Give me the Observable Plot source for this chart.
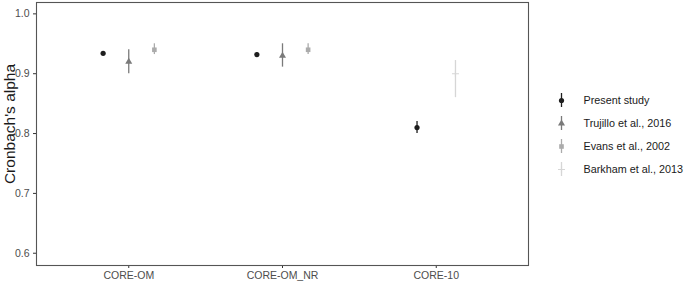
<!DOCTYPE html>
<html>
<head>
<meta charset="utf-8">
<script src="https://cdn.jsdelivr.net/npm/d3@7"></script>
<script src="https://cdn.jsdelivr.net/npm/@observablehq/plot@0.6"></script>
<style>
  html, body { margin: 0; padding: 0; background: #fff; }
  #wrap { position: relative; width: 685px; height: 283px; font-family: "Liberation Sans", Arial, sans-serif; }
  #wrap svg { position: absolute; left: 0; top: 0; }
  #ytitle { position: absolute; left: 10px; top: 124px; transform: translate(-50%, -50%) rotate(-90deg);
            font-size: 15.5px; color: #1a1a1a; white-space: nowrap; line-height: 1; }
</style>
</head>
<body>
<div id="wrap"></div>
<script>
const categories = ["CORE-OM", "CORE-OM_NR", "CORE-10"];
const studies = ["Present study", "Trujillo et al., 2016", "Evans et al., 2002", "Barkham et al., 2013"];
const studyColors = ["#1e1e1e", "#7a7a7a", "#ababab", "#d6d6d6"];
const studySymbols = ["circle", "triangle", "square", "plus"];

const measure = ["CORE-OM", "CORE-OM", "CORE-OM", "CORE-OM_NR", "CORE-OM_NR", "CORE-OM_NR", "CORE-10", "CORE-10"];
const study = ["Present study", "Trujillo et al., 2016", "Evans et al., 2002",
               "Present study", "Trujillo et al., 2016", "Evans et al., 2002",
               "Present study", "Barkham et al., 2013"];
const alpha = [0.934, 0.92, 0.94, 0.932, 0.93, 0.94, 0.81, 0.90];
const lower = [0.931, 0.90, 0.932, 0.929, 0.911, 0.932, 0.80, 0.86];
const upper = [0.937, 0.94, 0.95, 0.935, 0.95, 0.95, 0.82, 0.922];
const yTicks = [0.6, 0.7, 0.8, 0.9, 1.0];

// Build table with ggplot-style dodge (width 0.5)
const rows = measure.map((m, i) => ({measure: m, study: study[i], alpha: alpha[i], lower: lower[i], upper: upper[i]}));
const dodgeWidth = 0.5;
for (const r of rows) {
  const group = rows.filter(d => d.measure === r.measure)
    .sort((a, b) => studies.indexOf(a.study) - studies.indexOf(b.study));
  const n = group.length, k = group.indexOf(r);
  r.xpos = categories.indexOf(r.measure) + (k - (n - 1) / 2) * dodgeWidth / n;
}

const colorScale = {domain: studies, range: studyColors};
const symbolScale = {domain: studies, range: studySymbols};
const fontFam = "Liberation Sans, Arial, sans-serif";
const isPlus = d => d === "Barkham et al., 2013";

const main = Plot.plot({
  width: 685, height: 283,
  marginLeft: 36, marginRight: 157, marginTop: 2, marginBottom: 18,
  style: {fontFamily: fontFam, background: "transparent", overflow: "visible"},
  x: {type: "linear", domain: [-0.6, 2.6]},
  y: {domain: [0.5795, 1.019]},
  color: colorScale,
  symbol: symbolScale,
  marks: [
    Plot.axisX({ticks: [0, 1, 2], tickFormat: i => categories[i], tickSize: 3, tickPadding: 3,
                fontSize: 10.5, color: "#4d4d4d", stroke: "#333", label: null}),
    Plot.axisY({ticks: yTicks, tickFormat: d3.format(".1f"), tickSize: 3, tickPadding: 4,
                fontSize: 10.5, color: "#4d4d4d", stroke: "#333", label: null}),
    Plot.ruleX(rows, {x: "xpos", y1: "lower", y2: "upper", stroke: "study", strokeWidth: 1.3}),
    Plot.dot(rows.filter(d => !isPlus(d.study)),
             {x: "xpos", y: "alpha", fill: "study", symbol: "study", r: 2.6, stroke: "none"}),
    Plot.dot(rows.filter(d => isPlus(d.study)),
             {x: "xpos", y: "alpha", stroke: "study", symbol: "study", r: 2.4, strokeWidth: 1.1, fill: "none"}),
    Plot.frame({stroke: "#555", strokeWidth: 1.1})
  ]
});

const legend = Plot.plot({
  width: 145, height: 283, margin: 0,
  style: {fontFamily: fontFam, background: "transparent", overflow: "visible"},
  x: {domain: [0, 1], range: [21, 43], axis: null},
  y: {type: "band", domain: studies, range: [87.5, 181.1], paddingInner: 0.38, paddingOuter: 0.19, axis: null},
  color: colorScale,
  symbol: symbolScale,
  marks: [
    Plot.tickX(studies, {x: 0, y: d => d, stroke: d => d, strokeWidth: 1.3}),
    Plot.dot(studies.filter(d => !isPlus(d)), {x: 0, y: d => d, fill: d => d, symbol: d => d, r: 2.6, stroke: "none"}),
    Plot.dot(studies.filter(d => isPlus(d)), {x: 0, y: d => d, stroke: d => d, symbol: d => d, r: 2.4, strokeWidth: 1.1, fill: "none"}),
    Plot.text(studies, {x: 1, y: d => d, text: d => d, textAnchor: "start", fontSize: 10.8, fill: "#1a1a1a"})
  ]
});
legend.style.left = "540px";

const wrap = document.getElementById("wrap");
wrap.appendChild(main);
wrap.appendChild(legend);
const t = document.createElement("div");
t.id = "ytitle";
t.textContent = "Cronbach's alpha";
wrap.appendChild(t);
</script>
</body>
</html>
